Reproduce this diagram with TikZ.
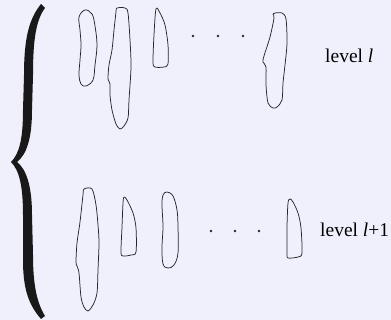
\documentclass[tikz,border=0pt]{standalone}
\usepackage{fontspec}
\setmainfont{Liberation Serif}
\definecolor{bg}{RGB}{240,240,252}
\tikzset{
  blob/.style={draw=black!85, line width=0.75pt, line join=round},
  dot/.style={circle, fill=black!85, inner sep=0pt, minimum size=2.6pt},
  lab/.style={font=\fontsize{19.5}{22}\selectfont, anchor=base west, inner sep=0pt}
}
\begin{document}
\begin{tikzpicture}[x=1pt,y=-1pt]
\fill[bg] (0,0) rectangle (391,320);
\useasboundingbox (0,0) rectangle (391,320);
% brace
\fill[black!90] (41,4) -- (45,8) .. controls (36,20) and (33,40) .. (33,75) -- (32,110)
  .. controls (32,140) and (26,155) .. (17,162)
  .. controls (26,169) and (32,185) .. (32,215) -- (33,255)
  .. controls (33,285) and (37,303) .. (45,316) -- (41,319)
  .. controls (29,305) and (23,290) .. (23,260) -- (23,215)
  .. controls (23,185) and (19,170) .. (11,162)
  .. controls (19,154) and (23,140) .. (23,110) -- (24,75)
  .. controls (24,35) and (30,18) .. (41,4) -- cycle;
% level l shapes
\draw[blob] plot[smooth cycle, tension=0.6] coordinates {(85,10) (92,14) (95,26) (97,45) (95,65) (93,80) (86,86) (81,84) (79,75) (80,60) (81,45) (80,30) (79,17)};
\draw[blob] plot[smooth cycle, tension=0.5] coordinates {(117,8) (125,8) (128,13) (130,40) (131,67) (129,100) (128,118) (124,126) (120,129) (116,124) (112,110) (110,95) (110,84) (108,79) (109,65) (112,50) (114,30) (116,12)};
\draw[blob] plot[smooth cycle, tension=0.5] coordinates {(156,9) (160,13) (165,25) (168,45) (168,64) (164,67) (155,67) (153,62) (154,35)};
\draw[blob] plot[smooth cycle, tension=0.5] coordinates {(275,13) (282,13) (286,19) (287,43) (285,65) (283,83) (282,100) (277,107) (273,108) (268,103) (266,85) (266,67) (263,62) (264,56) (270,37) (274,18) (273,14)};
\node[dot] (d1) at (193,36) {};
\node[dot] (d2) at (218,36) {};
\node[dot] (d3) at (243,36) {};
\node[lab] (l1) at (325,63) {level \textit{l}};
% level l+1 shapes
\draw[blob] plot[smooth cycle, tension=0.5] coordinates {(84,189) (92,189) (96,205) (98,225) (99,243) (98,270) (97,293) (93,305) (88,311) (84,307) (81,297) (79,273) (77,266) (76,262) (77,243) (80,222) (83,195)};
\draw[blob] plot[smooth cycle, tension=0.5] coordinates {(124,197) (127,200) (133,213) (136,228) (136,252) (131,255) (123,256) (121,252) (122,227) (123,203)};
\draw[blob] plot[smooth cycle, tension=0.6] coordinates {(167,192) (173,196) (177,210) (178,227) (178,253) (174,265) (168,268) (163,264) (162,247) (163,227) (162,205) (163,195)};
\draw[blob] plot[smooth cycle, tension=0.5] coordinates {(290,199) (293,202) (298,213) (301,228) (302,253) (298,257) (288,258) (287,253) (287,227) (288,203)};
\node[dot] (d4) at (211,231) {};
\node[dot] (d5) at (235,231) {};
\node[dot] (d6) at (259,231) {};
\node[lab] (l2) at (320,237) {level \textit{l}+1};
\end{tikzpicture}
\end{document}
